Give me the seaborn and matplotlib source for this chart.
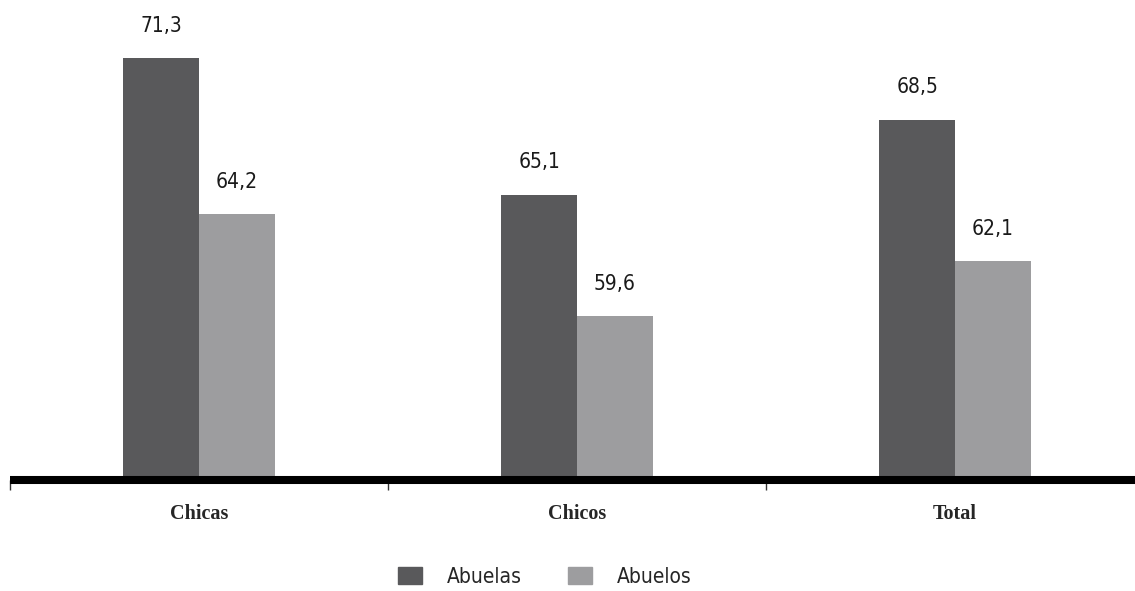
import pandas as pd
import matplotlib.pyplot as plt
import seaborn as sns

# Datos
grupos = ['Chicas', 'Chicos', 'Total']
abuelas = [71.3, 65.1, 68.5]
abuelos = [64.2, 59.6, 62.1]
series = ['Abuelas', 'Abuelos']
colores = ['#59595b', '#9d9d9f']

df = pd.DataFrame({
    'grupo': grupos * 2,
    'valor': abuelas + abuelos,
    'serie': [series[0]] * 3 + [series[1]] * 3,
})

sns.set_style('white')
fuente_num = ['DejaVu Sans']
fuente_cat = ['Liberation Serif', 'DejaVu Serif']

fig = plt.figure(figsize=(11.35, 5.91), dpi=100)
ax = fig.add_axes([10 / 1135, 111 / 591, 1134 / 1135, 470 / 591])

sns.barplot(data=df, x='grupo', y='valor', hue='serie', palette=colores,
            width=0.4, saturation=1, linewidth=0, ax=ax, legend=False)

ax.set_xlim(-0.5, 2.5)
ax.set_ylim(52.16, 73.47)

# etiquetas de valores
for cont in ax.containers:
    ax.bar_label(cont, labels=[f'{v:.1f}'.replace('.', ',') for v in cont.datavalues],
                 padding=16, fontsize=15, family=fuente_num, fontstretch='condensed',
                 color='#1a1a1a')

# ejes
for lado in ['top', 'right', 'left']:
    ax.spines[lado].set_visible(False)
ax.spines['bottom'].set_linewidth(5.8)
ax.spines['bottom'].set_color('black')
ax.spines['bottom'].set_capstyle('butt')
ax.set_yticks([])
ax.set_ylabel('')
ax.set_xlabel('')

ax.set_xticks([-0.5, 0.5, 1.5])
ax.set_xticklabels([])
ax.tick_params(axis='x', which='major', bottom=True, length=7, width=1,
               color='#333333', direction='out')
ax.set_xticks([0, 1, 2], minor=True)
ax.set_xticklabels(grupos, minor=True, fontsize=14.5, fontweight='bold', family=fuente_cat)
ax.tick_params(axis='x', which='minor', bottom=True, length=0, pad=17)

# leyenda
manejadores = [plt.Rectangle((0, 0), 1, 1, color=c) for c in colores]
fig.legend(manejadores, series, loc='center', bbox_to_anchor=(545 / 1135, 1 - 577 / 591),
           ncol=2, frameon=False,
           prop={'family': fuente_num, 'size': 15, 'stretch': 'condensed'},
           handlelength=1.15, handleheight=0.85, handletextpad=1.2, columnspacing=2.22)

plt.savefig('out.png', dpi=100)
